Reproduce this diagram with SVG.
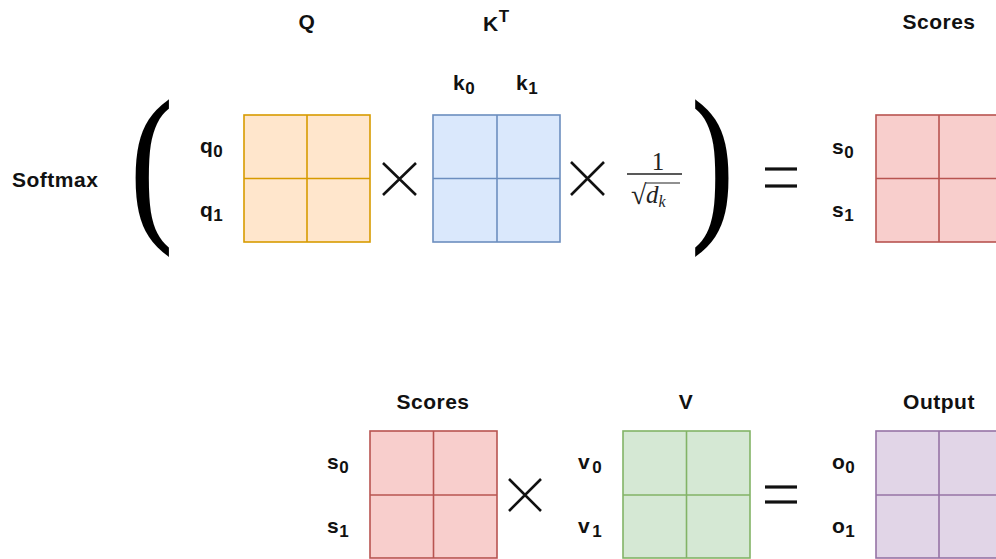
<svg xmlns="http://www.w3.org/2000/svg" width="996" height="559" viewBox="0 0 996 559">
<style>
.lbl{font-family:"Liberation Sans",Arial,sans-serif;font-weight:bold;font-size:21px;letter-spacing:0.5px;fill:#111}
.sub{font-size:17px}
.ctr{text-anchor:middle}
.grid{stroke-width:1.6}
.op{stroke:#111;stroke-width:2.6;fill:none;stroke-linecap:butt}
.eq{stroke:#111;stroke-width:3.2}
.par{font-family:"Liberation Serif","Times New Roman",serif;font-size:169px;fill:#000;stroke:#000;stroke-width:2.2}
.math{font-family:"Liberation Serif","Times New Roman",serif;fill:#222}
</style>
<rect width="996" height="559" fill="#ffffff"/>

<g id="softmax-label"><text class="lbl" x="12" y="187">Softmax</text></g>

<g id="paren-left"><text class="par" transform="translate(131,219) scale(0.73,1)">(</text></g>
<g id="paren-right"><text class="par" transform="translate(692,219) scale(0.73,1)">)</text></g>

<g id="matrix-Q">
<text class="lbl ctr" x="307" y="29">Q</text>
<rect x="244" y="115" width="126" height="127" fill="#ffe6cc" stroke="#d79b00" class="grid"/>
<line x1="307" y1="115" x2="307" y2="242" stroke="#d79b00" class="grid"/>
<line x1="244" y1="178.5" x2="370" y2="178.5" stroke="#d79b00" class="grid"/>
<text class="lbl" x="200" y="153">q<tspan class="sub" dy="4">0</tspan></text>
<text class="lbl" x="200" y="217">q<tspan class="sub" dy="4">1</tspan></text>
</g>

<g id="matrix-KT">
<text class="lbl" x="483" y="31">K<tspan class="sub" dy="-9">T</tspan></text>
<rect x="433" y="115" width="127" height="127" fill="#dae8fc" stroke="#6c8ebf" class="grid"/>
<line x1="497" y1="115" x2="497" y2="242" stroke="#6c8ebf" class="grid"/>
<line x1="433" y1="178.5" x2="560" y2="178.5" stroke="#6c8ebf" class="grid"/>
<text class="lbl" x="453" y="90">k<tspan class="sub" dy="4">0</tspan></text>
<text class="lbl" x="516" y="90">k<tspan class="sub" dy="4">1</tspan></text>
</g>

<g id="scale-factor">
<text class="math" x="658" y="170" font-size="25" text-anchor="middle">1</text>
<line x1="627" y1="174" x2="682" y2="174" stroke="#222" stroke-width="1.3"/>
<text class="math" x="631" y="204" font-size="28">√</text>
<line x1="646" y1="183" x2="680" y2="183" stroke="#222" stroke-width="1.2"/>
<text class="math" x="646" y="203" font-size="25" font-style="italic">d<tspan font-size="16" dy="4">k</tspan></text>
</g>

<g id="matrix-scores-top">
<text class="lbl ctr" x="939" y="29">Scores</text>
<rect x="876" y="115" width="126" height="127" fill="#f8cecc" stroke="#b85450" class="grid"/>
<line x1="939" y1="115" x2="939" y2="242" stroke="#b85450" class="grid"/>
<line x1="876" y1="178.5" x2="1002" y2="178.5" stroke="#b85450" class="grid"/>
<text class="lbl" x="832" y="154">s<tspan class="sub" dy="4">0</tspan></text>
<text class="lbl" x="832" y="217">s<tspan class="sub" dy="4">1</tspan></text>
</g>

<g id="matrix-scores-bottom">
<text class="lbl ctr" x="433" y="409">Scores</text>
<rect x="370" y="431" width="127" height="127" fill="#f8cecc" stroke="#b85450" class="grid"/>
<line x1="433.5" y1="431" x2="433.5" y2="558" stroke="#b85450" class="grid"/>
<line x1="370" y1="495" x2="497" y2="495" stroke="#b85450" class="grid"/>
<text class="lbl" x="327" y="469">s<tspan class="sub" dy="4">0</tspan></text>
<text class="lbl" x="327" y="533">s<tspan class="sub" dy="4">1</tspan></text>
</g>

<g id="matrix-V">
<text class="lbl ctr" x="686" y="409">V</text>
<rect x="623" y="431" width="127" height="127" fill="#d5e8d4" stroke="#82b366" class="grid"/>
<line x1="686.5" y1="431" x2="686.5" y2="558" stroke="#82b366" class="grid"/>
<line x1="623" y1="495" x2="750" y2="495" stroke="#82b366" class="grid"/>
<text class="lbl" x="578" y="469">v<tspan class="sub" dx="2" dy="4">0</tspan></text>
<text class="lbl" x="578" y="533">v<tspan class="sub" dx="2" dy="4">1</tspan></text>
</g>

<g id="matrix-output">
<text class="lbl ctr" x="939" y="409">Output</text>
<rect x="876" y="431" width="126" height="127" fill="#e1d5e7" stroke="#9673a6" class="grid"/>
<line x1="939" y1="431" x2="939" y2="558" stroke="#9673a6" class="grid"/>
<line x1="876" y1="495" x2="1002" y2="495" stroke="#9673a6" class="grid"/>
<text class="lbl" x="832" y="469">o<tspan class="sub" dy="4">0</tspan></text>
<text class="lbl" x="832" y="533">o<tspan class="sub" dy="4">1</tspan></text>
</g>

<g id="operators">
<path class="op" d="M383,163 L416,195 M383,195 L416,163"/>
<path class="op" d="M571,162 L604,195 M571,195 L604,162"/>
<path class="op" d="M509,479 L541,511 M509,511 L541,479"/>
<line class="eq" x1="765" y1="169" x2="797" y2="169"/>
<line class="eq" x1="765" y1="186" x2="797" y2="186"/>
<line class="eq" x1="765" y1="487" x2="797" y2="487"/>
<line class="eq" x1="765" y1="502" x2="797" y2="502"/>
</g>
</svg>
